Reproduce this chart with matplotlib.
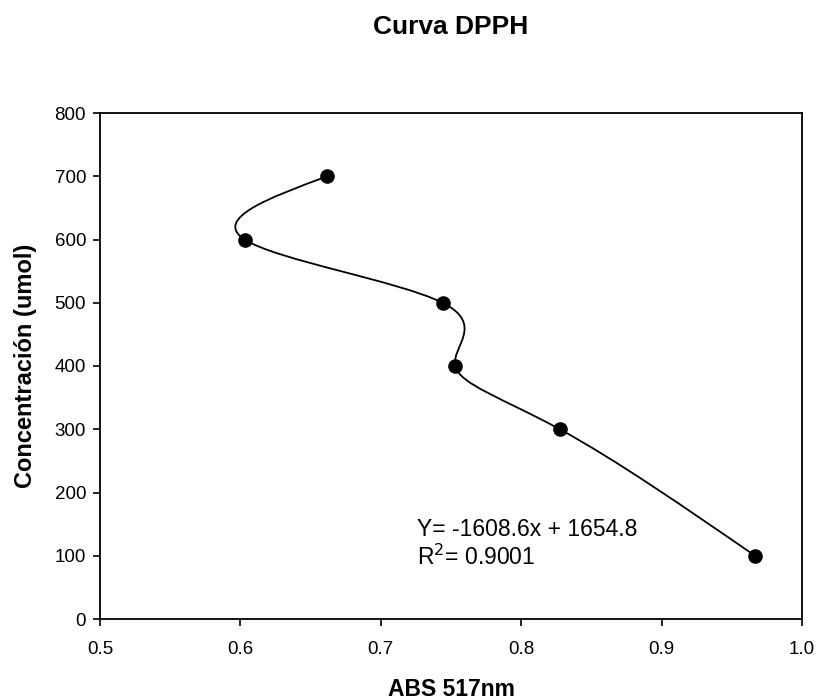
import numpy as np
import matplotlib
matplotlib.use("Agg")
import matplotlib.pyplot as plt
from matplotlib.path import Path
from matplotlib.patches import PathPatch

plt.rcParams['font.family'] = ['Liberation Sans', 'DejaVu Sans']

# data (connected in order of concentration)
abs_517 = [0.662, 0.603, 0.744, 0.753, 0.8275, 0.9665]
conc = [700, 600, 500, 400, 300, 100]
eq_text = "Y= -1608.6x + 1654.8"
r2_text = "R$^2$= 0.9001"

xlim = (0.5, 1.0)
ylim = (0, 800)

fig = plt.figure(figsize=(8.2, 7.0), dpi=100)
ax = fig.add_axes([100 / 820, 1 - 619 / 700, 702 / 820, 506 / 700])


def spline_path(xs, ys, sx, sy):
    # natural parametric cubic spline through the points, as Bezier segments
    p = np.column_stack([np.asarray(xs) * sx, np.asarray(ys) * sy])
    n = len(p)
    A = np.zeros((n, n))
    b = np.zeros((n, 2))
    A[0, 0], A[0, 1] = 2, 1
    b[0] = 3 * (p[1] - p[0])
    A[-1, -2], A[-1, -1] = 1, 2
    b[-1] = 3 * (p[-1] - p[-2])
    for i in range(1, n - 1):
        A[i, i - 1], A[i, i], A[i, i + 1] = 1, 4, 1
        b[i] = 3 * (p[i + 1] - p[i - 1])
    m = np.linalg.solve(A, b)

    verts = [p[0]]
    codes = [Path.MOVETO]
    for k in range(n - 1):
        verts += [p[k] + m[k] / 3.0, p[k + 1] - m[k + 1] / 3.0, p[k + 1]]
        codes += [Path.CURVE4] * 3
    return Path(np.array(verts) / [sx, sy], codes)


sx = 702 / (xlim[1] - xlim[0])
sy = 506 / (ylim[1] - ylim[0])
ax.add_patch(PathPatch(spline_path(abs_517, conc, sx, sy), fill=False,
                       lw=1.3, color='black'))

ax.plot(abs_517, conc, 'o', color='black', markersize=9.5, linestyle='none')

ax.set_xlim(*xlim)
ax.set_ylim(*ylim)
ax.set_xticks([0.5, 0.6, 0.7, 0.8, 0.9, 1.0])
ax.set_xticklabels(['0.5', '0.6', '0.7', '0.8', '0.9', '1.0'])
ax.set_yticks(range(0, 801, 100))
ax.tick_params(direction='out', length=5, width=1.2, labelsize=13.5,
               top=False, right=False)
ax.tick_params(axis='x', pad=11)
ax.tick_params(axis='y', pad=5)
for s in ax.spines.values():
    s.set_linewidth(1.3)

ax.text(0.7258, 131, eq_text, fontsize=16.5)
ax.text(0.7258, 85, r2_text, fontsize=16.5)

ax.set_xlabel("ABS 517nm", fontsize=16.5, fontweight='bold', labelpad=14)
ax.set_ylabel("Concentración (umol)", fontsize=17, fontweight='bold', labelpad=13)
fig.text(451 / 820, 1 - 27 / 700, "Curva DPPH", fontsize=19, fontweight='bold',
         ha='center', va='center')

fig.savefig("out.png", dpi=100)
